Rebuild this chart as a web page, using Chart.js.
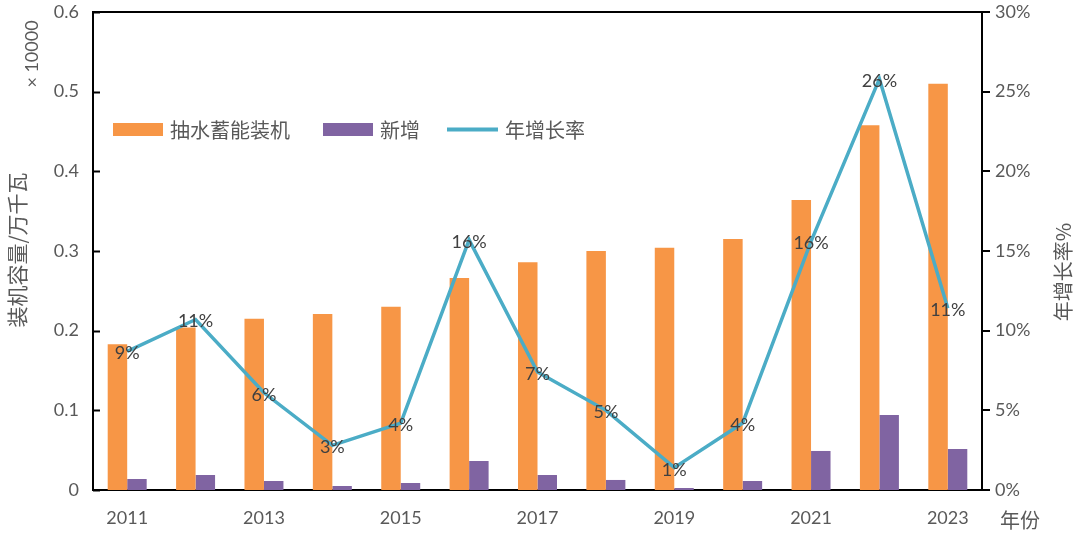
<!DOCTYPE html>
<html>
<head>
<meta charset="utf-8">
<script src="https://cdn.jsdelivr.net/npm/chart.js@4.4.1/dist/chart.umd.min.js"></script>
<style>
  html, body { margin: 0; padding: 0; background: #fff; }
</style>
</head>
<body>
<canvas id="c" width="1080" height="540"></canvas>
<script>
// 数据
const years = ["2011", "2012", "2013", "2014", "2015", "2016", "2017", "2018", "2019", "2020", "2021", "2022", "2023"];
const installed = [0.183, 0.204, 0.215, 0.221, 0.230, 0.266, 0.286, 0.300, 0.304, 0.315, 0.364, 0.458, 0.510];
const added = [0.0138, 0.0188, 0.0113, 0.005, 0.0088, 0.0364, 0.0188, 0.0126, 0.0025, 0.0113, 0.049, 0.094, 0.0515];
const growth = [8.7, 10.7, 6.1, 2.8, 4.2, 15.7, 7.4, 5.0, 1.4, 4.2, 15.6, 25.8, 11.4];
const leftTicks = [0, 0.1, 0.2, 0.3, 0.4, 0.5, 0.6];
const rightTicks = [0, 5, 10, 15, 20, 25, 30];

const FONT = 'Lato, "Noto Sans CJK SC", sans-serif';
const CJK = '"Noto Sans CJK SC", sans-serif';
const GREY = "#595959";

// 图中的附加文字、图例、边框和刻度
const extras = {
  id: "extras",
  afterDatasetsDraw(chart) {
    const ctx = chart.ctx;
    const area = chart.chartArea;
    const y = chart.scales.y;
    ctx.save();

    // 上边框
    ctx.strokeStyle = "#000";
    ctx.lineWidth = 2;
    ctx.beginPath();
    ctx.moveTo(area.left, area.top);
    ctx.lineTo(area.right, area.top);
    ctx.stroke();

    // 左轴向内的刻度
    leftTicks.forEach(v => {
      const py = Math.round(y.getPixelForValue(v)) + 0.5;
      ctx.beginPath();
      ctx.moveTo(area.left, py);
      ctx.lineTo(area.left + 7, py);
      ctx.stroke();
    });

    // 数据标签
    const meta = chart.getDatasetMeta(2);
    ctx.fillStyle = "#404040";
    ctx.font = "18px " + FONT;
    ctx.textAlign = "center";
    ctx.textBaseline = "middle";
    meta.data.forEach((pt, i) => {
      ctx.fillText(Math.round(growth[i]) + "%", pt.x, pt.y + 2);
    });

    // 图例
    ctx.font = "20px " + CJK;
    ctx.textAlign = "left";
    ctx.fillStyle = "#F79646";
    ctx.fillRect(113, 123, 50, 13);
    ctx.fillStyle = GREY;
    ctx.fillText("抽水蓄能装机", 170, 130);
    ctx.fillStyle = "#8064A2";
    ctx.fillRect(323, 123, 50, 13);
    ctx.fillStyle = GREY;
    ctx.fillText("新增", 380, 130);
    ctx.strokeStyle = "#4BACC6";
    ctx.lineWidth = 4;
    ctx.beginPath();
    ctx.moveTo(447, 129.5);
    ctx.lineTo(498, 129.5);
    ctx.stroke();
    ctx.fillText("年增长率", 505, 130);

    // 轴标题
    ctx.fillText("年份", 1000, 520);

    ctx.save();
    ctx.translate(17, 250);
    ctx.rotate(-Math.PI / 2);
    ctx.textAlign = "center";
    ctx.font = "21px " + CJK;
    ctx.fillText("装机容量/万千瓦", 0, 0);
    ctx.restore();

    ctx.save();
    ctx.translate(32, 54);
    ctx.rotate(-Math.PI / 2);
    ctx.textAlign = "center";
    ctx.font = "18px " + FONT;
    ctx.fillText("× 10000", 0, 0);
    ctx.restore();

    ctx.save();
    ctx.translate(1063, 272);
    ctx.rotate(-Math.PI / 2);
    ctx.textAlign = "center";
    ctx.font = "20px " + CJK;
    ctx.fillText("年增长率%", 0, 0);
    ctx.restore();

    ctx.restore();
  }
};

const noPad = s => { s.paddingTop = 0; s.paddingBottom = 0; };

new Chart(document.getElementById("c"), {
  data: {
    labels: years,
    datasets: [
      {
        type: "bar",
        label: "抽水蓄能装机",
        data: installed,
        backgroundColor: "#F79646",
        yAxisID: "y",
        order: 1,
        categoryPercentage: 0.57,
        barPercentage: 1
      },
      {
        type: "bar",
        label: "新增",
        data: added,
        backgroundColor: "#8064A2",
        yAxisID: "y",
        order: 2,
        categoryPercentage: 0.57,
        barPercentage: 1
      },
      {
        type: "line",
        label: "年增长率",
        data: growth,
        borderColor: "#4BACC6",
        borderWidth: 3.5,
        pointRadius: 0,
        tension: 0,
        yAxisID: "y1",
        order: 0
      }
    ]
  },
  options: {
    responsive: false,
    animation: false,
    layout: { padding: { top: 12, left: 0, right: 0, bottom: 0 } },
    plugins: {
      legend: { display: false },
      tooltip: { enabled: false }
    },
    scales: {
      x: {
        grid: { display: false, drawTicks: false },
        border: { color: "#000", width: 2 },
        ticks: {
          color: GREY,
          font: { family: FONT, size: 18 },
          padding: 17,
          autoSkip: false,
          maxRotation: 0,
          callback: (v, i) => (i % 2 === 0 ? years[i] : "")
        },
        afterFit: s => { s.height = 50; s.paddingLeft = 0; s.paddingRight = 0; }
      },
      y: {
        position: "left",
        min: 0,
        max: 0.6,
        grid: { display: false, drawTicks: false },
        border: { color: "#000", width: 2 },
        afterBuildTicks: s => { s.ticks = leftTicks.map(v => ({ value: v })); },
        ticks: {
          color: GREY,
          font: { family: FONT, size: 18 },
          padding: 14,
          callback: v => (v === 0 ? "0" : v.toFixed(1))
        },
        afterFit: s => { s.width = 93; noPad(s); }
      },
      y1: {
        position: "right",
        min: 0,
        max: 30,
        grid: { display: true, drawOnChartArea: false, drawTicks: true, tickLength: 8, color: "#000", lineWidth: 2 },
        border: { color: "#000", width: 2 },
        afterBuildTicks: s => { s.ticks = rightTicks.map(v => ({ value: v })); },
        ticks: {
          color: GREY,
          font: { family: FONT, size: 18 },
          padding: 5,
          callback: v => v + "%"
        },
        afterFit: s => { s.width = 98; noPad(s); }
      }
    }
  },
  plugins: [extras]
});
</script>
</body>
</html>
